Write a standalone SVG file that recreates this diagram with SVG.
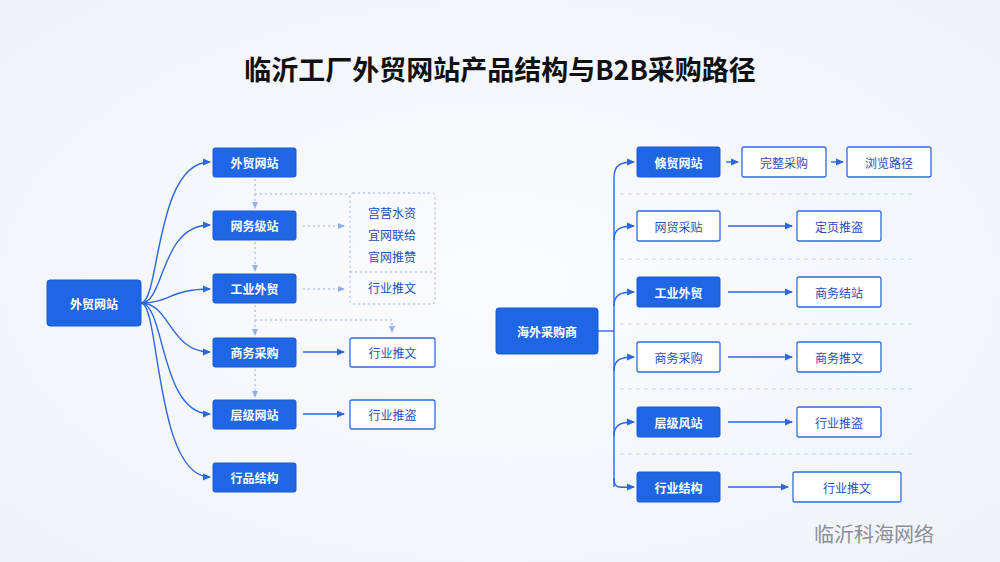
<svg xmlns="http://www.w3.org/2000/svg" width="1000" height="562" viewBox="0 0 1000 562">
<style>
text{font-family:"Noto Sans CJK SC","Liberation Sans",sans-serif;text-anchor:middle;dominant-baseline:central}
.f{fill:#1f66e5;stroke:#1a5ad4;stroke-width:1}
.ft{fill:#fff;font-size:12px;font-weight:bold}
.o{fill:#fff;stroke:#2d6be0;stroke-width:1.3}
.ot{fill:#1e4fb8;font-size:12px}
.ln{fill:none;stroke:#2a68e0;stroke-width:1.4}
.d{fill:none;stroke:#8fb0ec;stroke-width:1;stroke-dasharray:2 3}
.sep{stroke:#c5d3ea;stroke-width:1;stroke-dasharray:4 4}
</style>
<defs>
<marker id="a" markerWidth="8" markerHeight="8" refX="7" refY="4" orient="auto" markerUnits="userSpaceOnUse"><path d="M0,0.5 L8,4 L0,7.5z" fill="#2a68e0"/></marker>
<marker id="b" markerWidth="7" markerHeight="7" refX="6" refY="3.5" orient="auto" markerUnits="userSpaceOnUse"><path d="M0,0.5 L7,3.5 L0,6.5z" fill="#8fb0ec"/></marker>
<radialGradient id="bg" cx="0.5" cy="0.5" r="0.7"><stop offset="0" stop-color="#fbfcfe"/><stop offset="1" stop-color="#eef2f8"/></radialGradient>
</defs>
<rect width="1000" height="562" fill="url(#bg)"/>
<text x="500" y="68" font-size="27" font-weight="bold" fill="#111">临沂工厂外贸网站产品结构与B2B采购路径</text>
<g id="connectors">
<path class="ln" d="M141,303 C160,303 155,162 210,162" marker-end="url(#a)"/>
<path class="ln" d="M141,303 C165,303 160,225 210,225" marker-end="url(#a)"/>
<path class="ln" d="M141,303 C170,303 170,289 210,289" marker-end="url(#a)"/>
<path class="ln" d="M141,303 C170,303 170,352 210,352" marker-end="url(#a)"/>
<path class="ln" d="M141,303 C165,303 160,414 210,414" marker-end="url(#a)"/>
<path class="ln" d="M141,303 C160,303 155,477 210,477" marker-end="url(#a)"/>
<path class="d" d="M255,179 V208" marker-end="url(#b)"/>
<path class="d" d="M255,242 V271" marker-end="url(#b)"/>
<path class="d" d="M255,305 V335" marker-end="url(#b)"/>
<path class="d" d="M255,369 V397" marker-end="url(#b)"/>
<path class="d" d="M255,194 H350"/>
<path class="d" d="M255,320 H392 V332" marker-end="url(#b)"/>
<path class="d" d="M303,226 H344" marker-end="url(#b)"/>
<path class="d" d="M303,289 H344" marker-end="url(#b)"/>
<path class="ln" d="M303,352 H344" marker-end="url(#a)"/>
<path class="ln" d="M303,414 H344" marker-end="url(#a)"/>
<path class="ln" d="M598,331 H614"/>
<path class="ln" d="M614,487 V178 C614,165 620,162 634,162" marker-end="url(#a)"/>
<path class="ln" d="M614,240 C614,229 620,226 634,226" marker-end="url(#a)"/>
<path class="ln" d="M614,306 C614,295 620,292 634,292" marker-end="url(#a)"/>
<path class="ln" d="M614,371 C614,360 620,357 634,357" marker-end="url(#a)"/>
<path class="ln" d="M614,436 C614,425 620,422 634,422" marker-end="url(#a)"/>
<path class="ln" d="M614,478 C614,490 620,487 634,487" marker-end="url(#a)"/>
<path class="ln" d="M726,162 H738" marker-end="url(#a)"/>
<path class="ln" d="M831,162 H843" marker-end="url(#a)"/>
<path class="ln" d="M728,226 H792" marker-end="url(#a)"/>
<path class="ln" d="M728,292 H792" marker-end="url(#a)"/>
<path class="ln" d="M728,357 H792" marker-end="url(#a)"/>
<path class="ln" d="M728,422 H792" marker-end="url(#a)"/>
<path class="ln" d="M728,487 H788" marker-end="url(#a)"/>
<path class="sep" d="M620,194 H915 M620,259 H915 M620,324 H915 M620,389 H915 M620,454 H915"/>
</g>
<g id="main-left"><rect class="f" x="47" y="280" width="94" height="46" rx="3"/><text class="ft" x="94" y="303" font-size="15">外贸网站</text></g>
<g id="l1"><rect class="f" x="213" y="148" width="83" height="29" rx="2"/><text class="ft" x="254.5" y="162.5">外贸网站</text></g>
<g id="l2"><rect class="f" x="213" y="211" width="83" height="29" rx="2"/><text class="ft" x="254.5" y="225.5">网务级站</text></g>
<g id="l3"><rect class="f" x="213" y="274" width="83" height="29" rx="2"/><text class="ft" x="254.5" y="288.5">工业外贸</text></g>
<g id="l4"><rect class="f" x="213" y="338" width="83" height="29" rx="2"/><text class="ft" x="254.5" y="352.5">商务采购</text></g>
<g id="l5"><rect class="f" x="213" y="400" width="83" height="29" rx="2"/><text class="ft" x="254.5" y="414.5">层级网站</text></g>
<g id="l6"><rect class="f" x="213" y="463" width="83" height="29" rx="2"/><text class="ft" x="254.5" y="477.5">行品结构</text></g>
<g id="lgroup"><rect class="d" x="350" y="193" width="85" height="111" rx="3"/><path class="d" d="M350,272 H435"/>
<text class="ot" x="392" y="212">宫营水资</text><text class="ot" x="392" y="234">宜网联给</text><text class="ot" x="392" y="256">官网推赞</text><text class="ot" x="392" y="287">行业推文</text></g>
<g id="lb1"><rect class="o" x="350" y="338" width="85" height="29" rx="2"/><text class="ot" x="392.5" y="352.5">行业推文</text></g>
<g id="lb2"><rect class="o" x="350" y="400" width="85" height="29" rx="2"/><text class="ot" x="392.5" y="414.5">行业推盗</text></g>
<g id="main-right"><rect class="f" x="496" y="308" width="102" height="46" rx="3"/><text class="ft" x="547" y="331" font-size="15">海外采购商</text></g>
<g id="r1"><rect class="f" x="637" y="147" width="83" height="30" rx="2"/><text class="ft" x="678.5" y="162">倏贸网站</text></g>
<g id="r1b"><rect class="o" x="742" y="147" width="84" height="30" rx="2"/><text class="ot" x="784" y="162">完整采购</text></g>
<g id="r1c"><rect class="o" x="847" y="147" width="84" height="30" rx="2"/><text class="ot" x="889" y="162">浏览路径</text></g>
<g id="r2"><rect class="o" x="637" y="211" width="83" height="30" rx="2"/><text class="ot" x="678.5" y="226">网贸采贴</text></g>
<g id="r2b"><rect class="o" x="797" y="211" width="84" height="30" rx="2"/><text class="ot" x="839" y="226">定页推盗</text></g>
<g id="r3"><rect class="f" x="637" y="277" width="83" height="30" rx="2"/><text class="ft" x="678.5" y="292">工业外贸</text></g>
<g id="r3b"><rect class="o" x="797" y="277" width="84" height="30" rx="2"/><text class="ot" x="839" y="292">商务结站</text></g>
<g id="r4"><rect class="o" x="637" y="342" width="83" height="30" rx="2"/><text class="ot" x="678.5" y="357">商务采购</text></g>
<g id="r4b"><rect class="o" x="797" y="342" width="84" height="30" rx="2"/><text class="ot" x="839" y="357">商务推文</text></g>
<g id="r5"><rect class="f" x="637" y="407" width="83" height="30" rx="2"/><text class="ft" x="678.5" y="422">层级风站</text></g>
<g id="r5b"><rect class="o" x="797" y="407" width="84" height="30" rx="2"/><text class="ot" x="839" y="422">行业推盗</text></g>
<g id="r6"><rect class="f" x="637" y="472" width="83" height="30" rx="2"/><text class="ft" x="678.5" y="487">行业结构</text></g>
<g id="r6b"><rect class="o" x="793" y="472" width="108" height="30" rx="2"/><text class="ot" x="847" y="487">行业推文</text></g>
<text x="874" y="533" font-size="20" fill="#8a8f98">临沂科海网络</text>
</svg>
